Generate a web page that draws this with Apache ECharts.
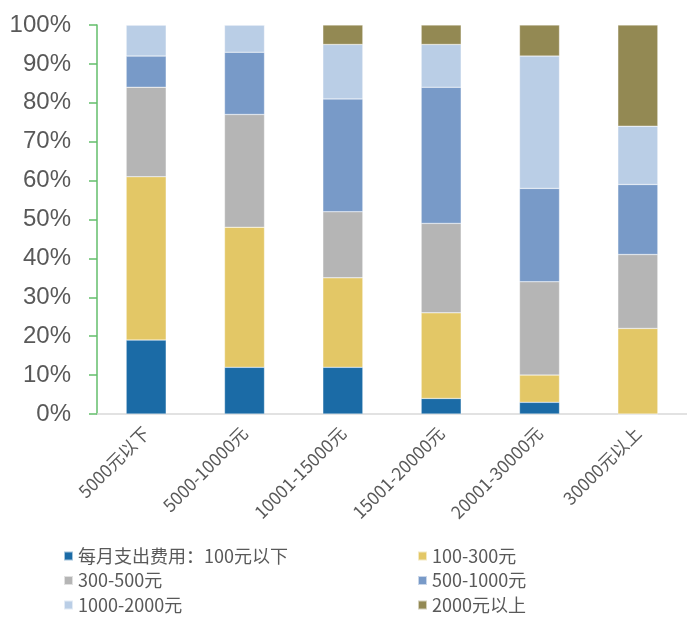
<!DOCTYPE html>
<html>
<head>
<meta charset="utf-8">
<script src="https://cdn.jsdelivr.net/npm/echarts@6/dist/echarts.min.js"></script>
<style>html,body{margin:0;padding:0;background:#fff}#c{width:687px;height:617px}</style>
</head>
<body>
<div id="c"></div>
<script>
const categories = ['5000元以下','5000-10000元','10001-15000元','15001-20000元','20001-30000元','30000元以上'];
const seriesNames = ['每月支出费用：100元以下','100-300元','300-500元','500-1000元','1000-2000元','2000元以上'];
const s100 = [19, 12, 12, 4, 3, 0];
const s300 = [42, 36, 23, 22, 7, 22];
const s500 = [23, 29, 17, 23, 24, 19];
const s1000 = [8, 16, 29, 35, 24, 18];
const s2000 = [8, 7, 14, 11, 34, 15];
const sAbove = [0, 0, 5, 5, 8, 26];
const yTicks = [0,10,20,30,40,50,60,70,80,90,100];

const values = [s100, s300, s500, s1000, s2000, sAbove];
const colors = ['#1B6BA6','#E3C766','#B5B5B5','#789AC8','#BACEE6','#938953'];
const font = '"Noto Sans CJK SC", "Liberation Sans", sans-serif';

const chart = echarts.init(document.getElementById('c'), null, {renderer:'canvas'});
const legendCommon = {orient: 'vertical', top: 541, height: 90,
  itemWidth: 9, itemHeight: 9, itemGap: 4.5, icon: 'rect',
  textStyle: {color: '#595959', fontSize: 18, lineHeight: 20, fontFamily: font}};
chart.setOption({
  animation: false,
  backgroundColor: '#fff',
  grid: {left: 97, top: 25, width: 595, height: 389, containLabel: false},
  xAxis: {
    type: 'category',
    data: categories,
    axisLine: {lineStyle: {color: '#D9D9D9', width: 1.5}},
    axisTick: {show: false},
    axisLabel: {rotate: 45, color: '#595959', fontSize: 17.5, fontFamily: font, margin: 16, interval: 0}
  },
  yAxis: {
    type: 'value',
    min: yTicks[0], max: yTicks[yTicks.length-1], interval: 10,
    axisLine: {show: true, lineStyle: {color: '#63BE6B', width: 1.5}},
    axisTick: {show: true, length: 8, lineStyle: {color: '#63BE6B', width: 1.5}},
    splitLine: {show: false},
    axisLabel: {formatter: '{value}%', color: '#595959', fontSize: 24, fontFamily: '"Liberation Sans", Arial, sans-serif', margin: 26}
  },
  legend: [
    Object.assign({data: [seriesNames[0], seriesNames[2], seriesNames[4]], left: 58}, legendCommon),
    Object.assign({data: [seriesNames[1], seriesNames[3], seriesNames[5]], left: 412}, legendCommon)
  ],
  series: values.map((v, i) => ({
    name: seriesNames[i],
    type: 'bar',
    stack: 'total',
    barWidth: 40,
    data: v,
    itemStyle: {color: colors[i], borderColor: 'rgba(255,255,255,0.6)', borderWidth: 0.5}
  }))
});
</script>
</body>
</html>
